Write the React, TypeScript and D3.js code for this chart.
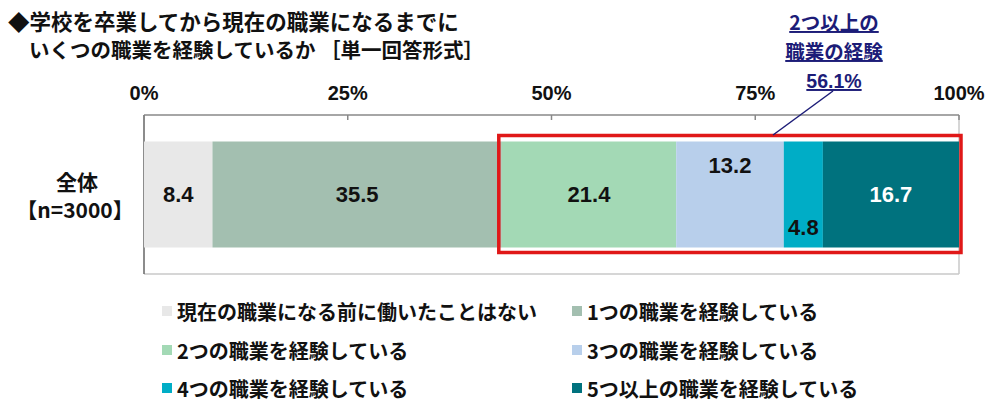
import React from "react";
import * as d3 from "d3";

const titleLines = ["◆学校を卒業してから現在の職業になるまでに", "いくつの職業を経験しているか ［単一回答形式］"];
const categories = ["全体"];
const categorySub = ["【n=3000】"];
const seriesNames = [
  "現在の職業になる前に働いたことはない",
  "1つの職業を経験している",
  "2つの職業を経験している",
  "3つの職業を経験している",
  "4つの職業を経験している",
  "5つ以上の職業を経験している",
];
const values = [8.4, 35.5, 21.4, 13.2, 4.8, 16.7];
const colors = ["#e8e8e8", "#a3bfb0", "#a3d9b5", "#b8cfeb", "#00adc6", "#00727e"];
const labelColors = ["#111", "#111", "#111", "#111", "#111", "#ffffff"];
const ticks = [0, 25, 50, 75, 100];
const tickLabels = ["0%", "25%", "50%", "75%", "100%"];
const calloutLines = ["2つ以上の", "職業の経験", "56.1%"];
const highlightFrom = 2; // series index where the red box starts

const FONT = "'Liberation Sans', 'Noto Sans CJK JP', sans-serif";
const JFONT = "'Noto Sans CJK JP', sans-serif";
// vertical label placement per series: 0 = centre, -1 = top, 1 = bottom
const labelPlace = [0, 0, 0, -1, 1, 0];

export default function App() {
  const W = 1000, H = 406;
  const x = d3.scaleLinear().domain([0, 100]).range([144, 959]);
  const plotTop = 115, plotBottom = 274;
  const y = d3.scaleBand<string>().domain(categories).range([plotTop, plotBottom]).padding(0.2);

  const cum: number[] = [];
  values.reduce((acc, v) => { cum.push(acc); return acc + v; }, 0);

  const cat = categories[0];
  const by = y(cat)!;
  const bh = y.bandwidth();
  const startHi = cum[highlightFrom];

  const legendCols = [162, 572];
  const legendRows = [311, 350, 388];

  return (
    <svg width={W} height={H} style={{ position: "absolute", left: 0, top: 0, background: "#fff" }} fontFamily={FONT}>
      {/* title */}
      <text x={8} y={30} fontSize={21.5} fontWeight="bold" fill="#111" fontFamily={JFONT}>{titleLines[0]}</text>
      <text x={29} y={58} fontSize={20.5} fontWeight="bold" fill="#111" fontFamily={JFONT}>{titleLines[1]}</text>

      {/* tick labels */}
      {ticks.map((t, i) => (
        <text key={t} x={x(t)} y={100} fontSize={20} fontWeight="bold" textAnchor="middle" fill="#111">{tickLabels[i]}</text>
      ))}

      {/* frame */}
      <line x1={x(100)} x2={x(100)} y1={plotTop} y2={plotBottom} stroke="#c8c8c8" strokeWidth={1.5} />
      <line x1={x(0)} x2={x(100)} y1={plotBottom} y2={plotBottom} stroke="#c8c8c8" strokeWidth={1.5} />
      <line x1={x(0)} x2={x(100)} y1={plotTop} y2={plotTop} stroke="#888" strokeWidth={1.5} />
      <line x1={x(0)} x2={x(0)} y1={plotTop} y2={plotBottom} stroke="#666" strokeWidth={1.5} />
      {ticks.map((t) => (
        <line key={t} x1={x(t)} x2={x(t)} y1={plotTop} y2={plotTop + 5} stroke="#888" strokeWidth={1.5} />
      ))}

      {/* bars */}
      {values.map((v, i) => (
        <rect key={i} x={x(cum[i])} y={by} width={x(cum[i] + v) - x(cum[i])} height={bh} fill={colors[i]} />
      ))}
      {values.map((v, i) => {
        const cx = (x(cum[i]) + x(cum[i] + v)) / 2;
        const cy = labelPlace[i] === 0 ? by + bh / 2 : labelPlace[i] < 0 ? by + 24 : by + bh - 20;
        return (
          <text key={i} x={cx} y={cy} fontSize={22} fontWeight="bold" textAnchor="middle" dominantBaseline="central" fill={labelColors[i]}>
            {v.toFixed(1)}
          </text>
        );
      })}

      {/* red highlight box */}
      <rect x={x(startHi) - 3} y={by - 6} width={x(100) - x(startHi) + 5} height={bh + 11} fill="none" stroke="#e01818" strokeWidth={3.5} />

      {/* category labels */}
      <text x={77} y={190} fontSize={21} fontWeight="bold" textAnchor="middle" fill="#111" fontFamily={JFONT}>{cat}</text>
      <text x={75} y={218} fontSize={21} fontWeight="bold" textAnchor="middle" fill="#111" fontFamily={JFONT}>{categorySub[0]}</text>

      {/* callout */}
      {calloutLines.map((s, i) => (
        <text key={i} x={834} y={30 + i * 29} fontSize={19.5} fontWeight="bold" textAnchor="middle" fill="#1c1c78" textDecoration="underline" fontFamily={i < 2 ? JFONT : FONT}>{s}</text>
      ))}
      <line x1={833} y1={91} x2={773} y2={135} stroke="#1c1c78" strokeWidth={1.5} />

      {/* legend */}
      {seriesNames.map((s, i) => {
        const col = i % 2, row = Math.floor(i / 2);
        const lx = legendCols[col], ly = legendRows[row];
        return (
          <g key={i}>
            <rect x={lx} y={ly - 5} width={10} height={10} fill={colors[i]} />
            <text x={lx + 15} y={ly} fontSize={20} fontWeight="bold" dominantBaseline="central" fill="#111" fontFamily={JFONT}>{s}</text>
          </g>
        );
      })}
    </svg>
  );
}
